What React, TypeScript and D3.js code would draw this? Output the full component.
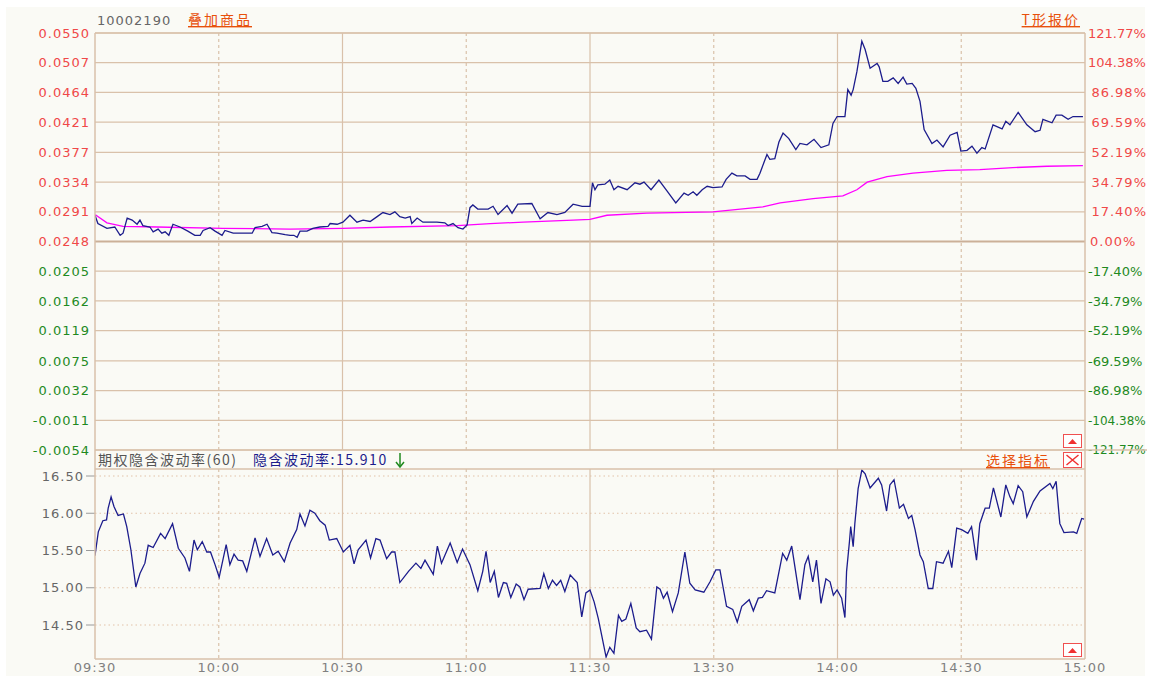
import React from 'react';
import * as d3 from 'd3';

// time axis (trading minutes from 09:30, lunch break removed)
const timeTickMinutes = [0, 30, 60, 90, 120, 150, 180, 210, 240];
const timeTickLabels = ['09:30', '10:00', '10:30', '11:00', '11:30', '13:30', '14:00', '14:30', '15:00'];
const solidTimeTicks = [60, 120, 180];

const priceTicks = [0.0550, 0.0507, 0.0464, 0.0421, 0.0377, 0.0334, 0.0291, 0.0248, 0.0205, 0.0162, 0.0119, 0.0075, 0.0032, -0.0011, -0.0054];
const priceTickLabels = ['0.0550', '0.0507', '0.0464', '0.0421', '0.0377', '0.0334', '0.0291', '0.0248', '0.0205', '0.0162', '0.0119', '0.0075', '0.0032', '-0.0011', '-0.0054'];
const pctTickLabels = ['121.77%', '104.38%', '86.98%', '69.59%', '52.19%', '34.79%', '17.40%', '0.00%', '-17.40%', '-34.79%', '-52.19%', '-69.59%', '-86.98%', '-104.38%', '-121.77%'];
const preClose = 0.0248;

const volTicks = [16.5, 16.0, 15.5, 15.0, 14.5];
const volTickLabels = ['16.50', '16.00', '15.50', '15.00', '14.50'];

// option price [minute, price]
const priceData: [number, number][] = [
  [0, 0.0286], [0.7, 0.0274], [2.9, 0.0267], [4.8, 0.0269], [6.1, 0.0257], [6.8, 0.0260], [7.8, 0.0282],
  [9.0, 0.0279], [10.2, 0.0273], [10.9, 0.0279], [11.6, 0.0271], [13.3, 0.0269], [14.1, 0.0262], [15.3, 0.0266],
  [16.2, 0.0260], [17.0, 0.0262], [17.9, 0.0257], [18.9, 0.0273], [20.6, 0.0269], [22.5, 0.0263], [24.2, 0.0257],
  [25.5, 0.0257], [26.2, 0.0264], [27.9, 0.0268], [29.1, 0.0263], [30.8, 0.0257], [31.5, 0.0264], [33.5, 0.0260],
  [35.9, 0.0260], [38.1, 0.0260], [38.8, 0.0268], [40.5, 0.0270], [41.7, 0.0273], [42.9, 0.0261], [44.1, 0.0260],
  [46.1, 0.0258], [47.3, 0.0257], [48.2, 0.0257], [49.0, 0.0254], [49.7, 0.0263], [51.4, 0.0263], [52.8, 0.0267],
  [54.5, 0.0269], [56.5, 0.0270], [57.0, 0.0274], [58.7, 0.0273], [60.1, 0.0276], [61.8, 0.0286], [63.5, 0.0276],
  [65.0, 0.0279], [66.7, 0.0277], [68.4, 0.0284], [69.8, 0.0290], [71.5, 0.0287], [72.7, 0.0291], [73.9, 0.0284],
  [75.2, 0.0282], [76.4, 0.0284], [76.8, 0.0274], [78.1, 0.0282], [79.5, 0.0276], [82.9, 0.0276], [84.8, 0.0275],
  [85.6, 0.0271], [86.8, 0.0274], [88.0, 0.0268], [89.2, 0.0266], [90.2, 0.0272], [90.9, 0.0297], [91.6, 0.0301],
  [92.8, 0.0295], [95.3, 0.0295], [96.5, 0.0299], [97.7, 0.0287], [99.9, 0.0300], [101.1, 0.0289], [102.5, 0.0302],
  [105.9, 0.0303], [107.9, 0.0281], [109.8, 0.0290], [112.0, 0.0287], [113.9, 0.0290], [115.9, 0.0302], [118.1, 0.0299],
  [120.0, 0.0299], [120.6, 0.0333], [121.2, 0.0323], [121.9, 0.0330], [123.6, 0.0331], [124.8, 0.0337], [125.8, 0.0323],
  [126.8, 0.0328], [129.0, 0.0323], [130.9, 0.0333], [132.1, 0.0331], [133.1, 0.0334], [134.8, 0.0323], [136.7, 0.0337],
  [138.7, 0.0321], [140.8, 0.0304], [142.8, 0.0318], [143.8, 0.0315], [145.0, 0.0320], [145.9, 0.0315], [147.2, 0.0323],
  [148.4, 0.0328], [149.8, 0.0326], [152.0, 0.0327], [153.0, 0.0338], [154.4, 0.0347], [155.6, 0.0343], [157.6, 0.0343],
  [158.8, 0.0338], [160.5, 0.0338], [161.2, 0.0347], [162.9, 0.0374], [163.6, 0.0367], [164.8, 0.0368], [165.8, 0.0392],
  [166.8, 0.0405], [168.2, 0.0397], [169.9, 0.0381], [170.9, 0.0390], [172.6, 0.0388], [174.3, 0.0396], [176.0, 0.0384],
  [177.9, 0.0388], [178.9, 0.0419], [179.9, 0.0429], [181.8, 0.0429], [182.5, 0.0468], [183.3, 0.0460], [183.8, 0.0468],
  [184.7, 0.0494], [185.9, 0.0538], [186.7, 0.0526], [187.9, 0.0499], [189.6, 0.0506], [190.1, 0.0501], [191.0, 0.0480],
  [192.2, 0.0480], [193.5, 0.0485], [194.7, 0.0477], [195.9, 0.0486], [196.8, 0.0476], [198.1, 0.0477], [199.0, 0.0470],
  [200.0, 0.0451], [201.0, 0.0410], [202.9, 0.0390], [204.1, 0.0395], [205.6, 0.0385], [207.3, 0.0402], [209.0, 0.0406],
  [209.9, 0.0379], [211.4, 0.0380], [212.6, 0.0386], [213.8, 0.0376], [215.0, 0.0384], [215.8, 0.0382], [217.7, 0.0417],
  [219.9, 0.0411], [220.8, 0.0422], [221.8, 0.0417], [223.8, 0.0435], [225.9, 0.0417], [227.9, 0.0407], [229.1, 0.0409],
  [229.8, 0.0425], [232.0, 0.0420], [233.0, 0.0431], [234.4, 0.0431], [235.9, 0.0425], [237.1, 0.0429], [239.5, 0.0429],
];

// average price line
const avgData: [number, number][] = [
  [0, 0.0287], [2.9, 0.0275], [6.8, 0.0270], [15, 0.0269], [31, 0.0267], [47.3, 0.0266], [60, 0.0267],
  [71.5, 0.0269], [87.8, 0.0271], [95.8, 0.0274], [103.8, 0.0276], [115.9, 0.0279], [120, 0.0280], [124.1, 0.0286],
  [133.8, 0.0289], [149.8, 0.0291], [161.9, 0.0298], [166.1, 0.0304], [174.1, 0.0310], [181.3, 0.0314], [184.7, 0.0323],
  [187.2, 0.0334], [192, 0.0342], [198.3, 0.0347], [206.5, 0.0351], [214.5, 0.0352], [222.5, 0.0355], [230.8, 0.0357],
  [239.5, 0.0358],
];

// implied volatility (60)
const volData: [number, number][] = [
  [0, 15.43], [0.8, 15.75], [1.9, 15.90], [2.8, 15.91], [3.2, 16.07], [3.9, 16.22], [4.6, 16.09], [5.6, 15.97],
  [6.9, 15.99], [7.7, 15.82], [8.7, 15.51], [9.9, 15.01], [10.9, 15.19], [12.1, 15.33], [12.9, 15.57], [14.1, 15.54],
  [15.9, 15.73], [17.0, 15.66], [18.8, 15.86], [20.2, 15.53], [21.8, 15.40], [22.9, 15.22], [24.0, 15.64], [24.8, 15.51],
  [26.0, 15.62], [27.1, 15.48], [28.0, 15.48], [29.1, 15.31], [30.1, 15.14], [31.8, 15.58], [32.7, 15.31], [33.7, 15.45],
  [34.7, 15.37], [35.8, 15.36], [36.8, 15.22], [38.8, 15.67], [40.0, 15.42], [41.6, 15.66], [43.1, 15.44], [44.4, 15.49],
  [45.9, 15.35], [47.3, 15.60], [48.9, 15.78], [49.7, 15.99], [50.9, 15.83], [52.1, 16.04], [53.3, 16.00], [54.5, 15.90],
  [55.8, 15.84], [56.8, 15.64], [58.6, 15.66], [60.2, 15.48], [61.8, 15.57], [62.8, 15.32], [63.8, 15.51], [65.7, 15.64],
  [66.8, 15.40], [68.1, 15.66], [69.1, 15.64], [70.7, 15.39], [71.9, 15.48], [72.7, 15.48], [73.9, 15.07], [76.0, 15.22],
  [77.8, 15.33], [79.0, 15.26], [80.0, 15.37], [82.0, 15.18], [83.0, 15.56], [84.0, 15.33], [86.1, 15.60], [87.8, 15.34],
  [89.1, 15.52], [90.9, 15.31], [92.8, 14.96], [94.0, 15.22], [94.8, 15.49], [95.8, 15.07], [96.8, 15.22], [97.8, 14.87],
  [99.0, 15.07], [99.8, 15.06], [100.8, 14.87], [102.1, 15.05], [103.0, 15.01], [104.0, 14.84], [105.0, 14.98], [107.9, 14.99],
  [108.8, 15.19], [109.9, 14.99], [110.9, 15.10], [111.9, 15.03], [112.9, 15.10], [113.9, 14.95], [115.2, 15.17], [116.9, 15.07],
  [118.0, 14.61], [119.0, 14.93], [120.0, 14.97], [121.0, 14.81], [122.0, 14.59], [122.8, 14.37], [123.9, 14.07], [124.8, 14.20],
  [125.8, 14.12], [126.9, 14.63], [127.7, 14.55], [128.7, 14.58], [129.9, 14.79], [131.2, 14.46], [132.1, 14.41], [133.7, 14.43],
  [134.9, 14.31], [136.2, 15.01], [137.0, 14.98], [137.8, 14.86], [138.7, 14.94], [140.0, 14.68], [141.4, 14.93], [143.0, 15.48],
  [144.2, 15.06], [145.5, 14.97], [147.6, 14.94], [149.1, 15.08], [150.5, 15.24], [151.5, 15.24], [153.1, 14.75], [154.6, 14.71],
  [155.7, 14.54], [156.8, 14.75], [158.6, 14.84], [159.6, 14.69], [160.8, 14.86], [161.8, 14.87], [162.8, 14.96], [164.8, 14.93],
  [166.7, 15.46], [167.7, 15.37], [168.9, 15.56], [170.9, 14.84], [172.1, 15.31], [172.9, 15.42], [174.0, 15.08], [174.9, 15.37],
  [176.0, 14.79], [177.2, 15.12], [178.2, 15.08], [179.0, 14.90], [179.9, 14.97], [181.0, 14.86], [181.8, 14.60], [182.2, 15.22],
  [182.9, 15.62], [183.2, 15.82], [183.8, 15.55], [184.2, 15.86], [185.0, 16.33], [185.9, 16.58], [186.7, 16.53], [187.9, 16.34],
  [189.9, 16.47], [190.7, 16.38], [191.9, 16.03], [192.7, 16.38], [193.7, 16.45], [195.0, 16.07], [196.0, 16.12], [197.2, 15.93],
  [198.0, 15.97], [198.8, 15.78], [200.0, 15.44], [200.8, 15.35], [202.0, 14.99], [203.1, 14.99], [204.0, 15.35], [205.6, 15.33],
  [206.9, 15.49], [207.7, 15.27], [208.9, 15.80], [210.1, 15.78], [211.6, 15.73], [212.5, 15.82], [213.7, 15.37], [214.5, 15.86],
  [215.8, 16.07], [216.8, 16.07], [217.8, 16.34], [219.6, 15.95], [220.8, 16.38], [221.8, 16.22], [222.6, 16.13], [223.8, 16.37],
  [224.9, 16.29], [225.9, 15.95], [227.5, 16.16], [229.1, 16.30], [231.5, 16.40], [232.2, 16.33], [233.0, 16.43], [233.9, 15.86],
  [234.9, 15.74], [237.2, 15.75], [238.0, 15.73], [239.2, 15.93], [239.8, 15.92],
];

const lastVol = '15.910';

const numFont = "'DejaVu Sans', Verdana, sans-serif";
const cjkFont = "'Noto Sans CJK SC', 'DejaVu Sans', sans-serif";
const gridColor = '#d9c1aa';
const red = '#f04848';
const green = '#1f8a1f';
const orange = '#e8500c';

const App = () => {
  const left = 95;
  const right = 1085;
  const topY = 33;
  const midY = 450;
  const subTop = 469;
  const bottomY = 659;

  const x = d3.scaleLinear().domain([0, 240]).range([left, right]);
  const yPrice = d3.scaleLinear().domain([-0.0054, 0.0550]).range([midY, topY]);
  const yVol = d3.scaleLinear().domain([14.5, 16.5]).range([625, 476]);

  const priceLine = d3.line<[number, number]>().x((d) => x(d[0])).y((d) => yPrice(d[1]));
  const volLine = d3.line<[number, number]>().x((d) => x(d[0])).y((d) => yVol(d[1]));

  // long percent labels start right after the frame and are squeezed to fit
  const pctStyle = (label: string, t: number) => {
    if (t === preClose) return { x: 1090, anchor: 'start', size: 13, spacing: 1 };
    if (label.length >= 8) return { x: 1088, anchor: 'start', size: 12, spacing: 0 };
    if (label.length >= 7) return { x: 1088, anchor: 'start', size: 13, spacing: 0 };
    return { x: 1147, anchor: 'end', size: 13, spacing: 1 };
  };

  return (
    <svg width={1150} height={679} style={{ position: 'absolute', left: 0, top: 0 }}>
      <defs>
        <clipPath id="topClip"><rect x={left} y={topY} width={right - left} height={midY - topY} /></clipPath>
        <clipPath id="subClip"><rect x={left} y={subTop} width={right - left} height={bottomY - subTop} /></clipPath>
      </defs>
      <rect x={0} y={0} width={1150} height={679} fill="#ffffff" />
      <rect x={6} y={7} width={1139} height={669} fill="#fafaf5" />

      {/* header */}
      <text x={97} y={25} fontFamily={numFont} fontSize={13} letterSpacing={1} fill="#666">10002190</text>
      <text x={188} y={25} fontFamily={cjkFont} fontSize={14} letterSpacing={2} fill={orange} textDecoration="underline">叠加商品</text>
      <text x={1080} y={25} textAnchor="end" fontFamily={cjkFont} fontSize={14} letterSpacing={2} fill={orange} textDecoration="underline">T形报价</text>

      {/* top panel grid */}
      {priceTicks.map((t, i) => (
        <line key={'hg' + i} x1={left} x2={right} y1={yPrice(t)} y2={yPrice(t)}
          stroke={t === preClose ? '#cbb098' : gridColor} strokeWidth={t === preClose ? 2 : 1.2} />
      ))}
      {timeTickMinutes.slice(1, -1).map((m) => (
        <line key={'vg' + m} x1={x(m)} x2={x(m)} y1={topY} y2={midY}
          stroke={gridColor} strokeWidth={1.2}
          strokeDasharray={solidTimeTicks.includes(m) ? undefined : '3,3'} />
      ))}

      {/* left price labels */}
      {priceTicks.map((t, i) => (
        <text key={'pl' + i} x={90} y={yPrice(t)} dy="0.36em" textAnchor="end" fontFamily={numFont}
          fontSize={13} letterSpacing={1} fill={t >= preClose ? red : green}>{priceTickLabels[i]}</text>
      ))}
      {/* right percent labels */}
      {priceTicks.map((t, i) => {
        const p = pctStyle(pctTickLabels[i], t);
        return (
          <text key={'pr' + i} x={p.x} y={yPrice(t)} dy="0.36em"
            textAnchor={p.anchor} fontFamily={numFont}
            fontSize={p.size} letterSpacing={p.spacing} fill={t >= preClose ? red : green}>{pctTickLabels[i]}</text>
        );
      })}

      {/* price lines */}
      <g clipPath="url(#topClip)">
        <path d={priceLine(avgData) || ''} fill="none" stroke="#ff00ff" strokeWidth={1.3} />
        <path d={priceLine(priceData) || ''} fill="none" stroke="#1c1c8c" strokeWidth={1.3} />
      </g>

      {/* sub panel grid */}
      {volTicks.map((t, i) => (
        <g key={'vt' + i}>
          <line x1={left} x2={right} y1={yVol(t)} y2={yVol(t)} stroke="#e2c2a8" strokeWidth={1} strokeDasharray="1.5,3" />
          <line x1={86} x2={left} y1={yVol(t)} y2={yVol(t)} stroke="#9a9a9a" strokeWidth={1} />
          <text x={84} y={yVol(t)} dy="0.36em" textAnchor="end" fontFamily={numFont} fontSize={13}
            letterSpacing={1} fill="#666">{volTickLabels[i]}</text>
        </g>
      ))}
      {timeTickMinutes.slice(1, -1).map((m) => (
        <line key={'sv' + m} x1={x(m)} x2={x(m)} y1={subTop} y2={bottomY}
          stroke={gridColor} strokeWidth={1.2}
          strokeDasharray={solidTimeTicks.includes(m) ? undefined : '3,3'} />
      ))}
      <g clipPath="url(#subClip)">
        <path d={volLine(volData) || ''} fill="none" stroke="#1c1c8c" strokeWidth={1.3} />
      </g>

      {/* frame */}
      <line x1={left} x2={right} y1={topY} y2={topY} stroke={gridColor} strokeWidth={1.5} />
      <line x1={left} x2={1147} y1={midY} y2={midY} stroke={gridColor} strokeWidth={1.5} />
      <line x1={left} x2={right} y1={subTop} y2={subTop} stroke={gridColor} strokeWidth={1.5} />
      <line x1={left} x2={right} y1={bottomY} y2={bottomY} stroke={gridColor} strokeWidth={1.5} />
      <line x1={left} x2={left} y1={topY} y2={bottomY} stroke={gridColor} strokeWidth={1.5} />
      <line x1={right} x2={right} y1={topY} y2={bottomY} stroke={gridColor} strokeWidth={1.5} />

      {/* sub panel header */}
      <text x={98} y={465} fontFamily={cjkFont} fontSize={14} letterSpacing={1.5} fill="#555">期权隐含波动率(60)</text>
      <text x={253} y={465} fontFamily={cjkFont} fontSize={14} letterSpacing={1.5} fill="#1c1c8c">隐含波动率:{lastVol}</text>
      <g stroke={green} strokeWidth={1.5} fill="none">
        <line x1={400} x2={400} y1={453} y2={466} />
        <polyline points="396,462 400,467 404,462" />
      </g>
      <text x={1050} y={466} textAnchor="end" fontFamily={cjkFont} fontSize={14} letterSpacing={2} fill={orange} textDecoration="underline">选择指标</text>

      {/* panel buttons */}
      <rect x={1063.5} y={434.5} width={18} height={13} fill="#fff" stroke="#f05050" />
      <path d="M1068,444 L1072.5,439 L1077,444 Z" fill="#f03030" />
      <rect x={1063.5} y={452.5} width={18} height={15} fill="#fff" stroke="#f05050" />
      <path d="M1066.5,455 L1078.5,465 M1078.5,455 L1066.5,465" stroke="#f03030" strokeWidth={1.5} />
      <rect x={1063.5} y={643.5} width={18} height={13} fill="#fff" stroke="#f05050" />
      <path d="M1068,653 L1072.5,648 L1077,653 Z" fill="#f03030" />

      {/* time axis labels */}
      {timeTickMinutes.map((m, i) => (
        <text key={'tl' + i} x={x(m)} y={672} textAnchor="middle" fontFamily={numFont} fontSize={13}
          letterSpacing={1} fill="#808080">{timeTickLabels[i]}</text>
      ))}
    </svg>
  );
};

export default App;
